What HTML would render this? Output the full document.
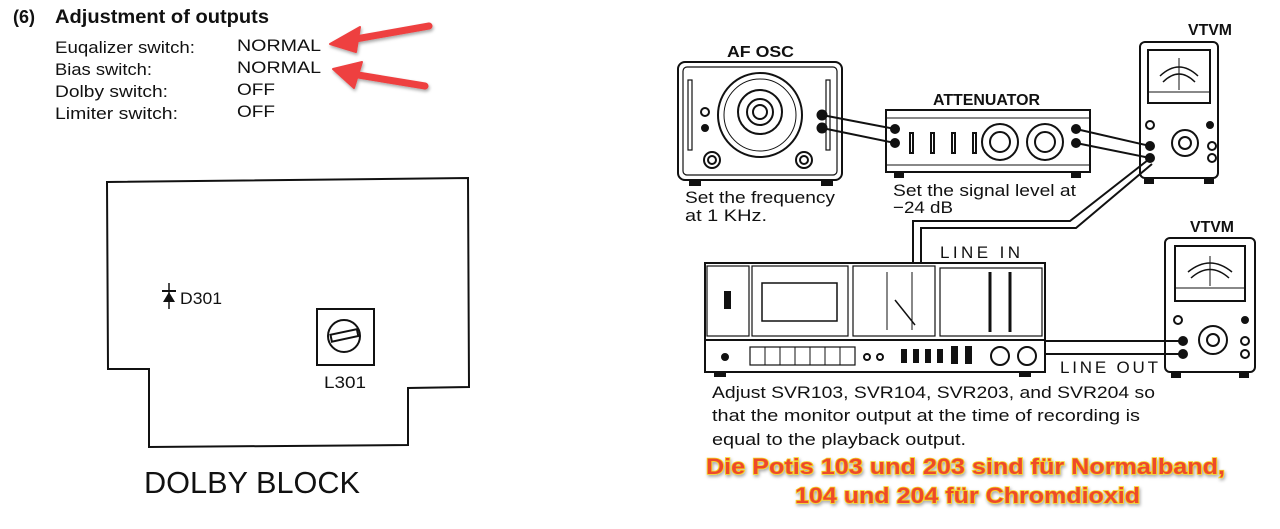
<!DOCTYPE html>
<html><head><meta charset="utf-8">
<style>
html,body{margin:0;padding:0;background:#fff;}
svg{display:block;font-family:"Liberation Sans",sans-serif;}
</style></head>
<body>
<svg width="1280" height="529" viewBox="0 0 1280 529" xmlns="http://www.w3.org/2000/svg">
<defs>
<filter id="sh" x="-10%" y="-30%" width="120%" height="160%">
<feDropShadow dx="1" dy="2" stdDeviation="1.5" flood-color="#000" flood-opacity="0.35"/>
</filter>
</defs>
<!-- LEFT: header -->
<text x="13" y="23" font-size="18" font-weight="bold" fill="#111" textLength="22" lengthAdjust="spacingAndGlyphs">(6)</text>
<text x="55" y="23" font-size="19" font-weight="bold" fill="#111" textLength="214" lengthAdjust="spacingAndGlyphs">Adjustment of outputs</text>
<g font-size="17" fill="#111">
<text x="55" y="53" textLength="140" lengthAdjust="spacingAndGlyphs">Euqalizer switch:</text>
<text x="55" y="75" textLength="97" lengthAdjust="spacingAndGlyphs">Bias switch:</text>
<text x="55" y="97" textLength="113" lengthAdjust="spacingAndGlyphs">Dolby switch:</text>
<text x="55" y="119" textLength="123" lengthAdjust="spacingAndGlyphs">Limiter switch:</text>
<text x="237" y="51" textLength="84" lengthAdjust="spacingAndGlyphs">NORMAL</text>
<text x="237" y="73" textLength="84" lengthAdjust="spacingAndGlyphs">NORMAL</text>
<text x="237" y="95" textLength="38" lengthAdjust="spacingAndGlyphs">OFF</text>
<text x="237" y="117" textLength="38" lengthAdjust="spacingAndGlyphs">OFF</text>
</g>
<!-- red arrows -->
<g fill="#ee4040" stroke="#ee4040" filter="url(#sh)">
<line x1="429" y1="26" x2="350" y2="40" stroke-width="7" stroke-linecap="round"/>
<polygon points="330,44 360,27 356,52" stroke-width="2" stroke-linejoin="round"/>
<line x1="425" y1="86" x2="352" y2="74" stroke-width="7" stroke-linecap="round"/>
<polygon points="333,69 362,62 354,88" stroke-width="2" stroke-linejoin="round"/>
</g>
<!-- board -->
<polygon points="107,182 468,178 469,387 408,388 408,445 149,447 149,369 108,369" fill="none" stroke="#111" stroke-width="2"/>
<!-- diode -->
<line x1="169" y1="283" x2="169" y2="309" stroke="#111" stroke-width="1.5"/>
<polygon points="163,302 175,302 169,292" fill="#111"/>
<line x1="162" y1="291" x2="176" y2="291" stroke="#111" stroke-width="2"/>
<text x="180" y="304" font-size="17" fill="#111" textLength="42" lengthAdjust="spacingAndGlyphs">D301</text>
<!-- L301 -->
<rect x="317" y="309" width="57" height="56" fill="none" stroke="#111" stroke-width="2"/>
<circle cx="344" cy="336" r="16" fill="none" stroke="#111" stroke-width="2"/>
<rect x="331" y="332" width="27" height="7" fill="none" stroke="#111" stroke-width="2" transform="rotate(-12 344 336)"/>
<text x="324" y="388" font-size="17" fill="#111" textLength="42" lengthAdjust="spacingAndGlyphs">L301</text>
<text x="144" y="493" font-size="31" fill="#111" textLength="216" lengthAdjust="spacingAndGlyphs">DOLBY  BLOCK</text>

<!-- RIGHT: labels -->
<g fill="#111" font-size="16" font-weight="bold">
<text x="727" y="57" textLength="67" lengthAdjust="spacingAndGlyphs">AF OSC</text>
<text x="933" y="105" textLength="107" lengthAdjust="spacingAndGlyphs">ATTENUATOR</text>
<text x="1188" y="35" textLength="44" lengthAdjust="spacingAndGlyphs">VTVM</text>
<text x="1190" y="232" textLength="44" lengthAdjust="spacingAndGlyphs">VTVM</text>
</g>
<!-- AF OSC -->
<g stroke="#111" fill="none" stroke-width="2">
<rect x="678" y="62" width="164" height="118" rx="7"/>
<rect x="683" y="67" width="154" height="108" rx="4" stroke-width="1.2"/>
<rect x="690" y="180" width="10" height="5" fill="#111"/>
<rect x="822" y="180" width="10" height="5" fill="#111"/>
<rect x="688" y="80" width="4" height="70" stroke-width="1.2"/>
<rect x="826" y="80" width="4" height="70" stroke-width="1.2"/>
<circle cx="760" cy="115" r="42"/>
<circle cx="760" cy="115" r="36" stroke-width="1"/>
<circle cx="760" cy="112" r="22"/>
<circle cx="760" cy="112" r="13"/>
<circle cx="760" cy="112" r="7"/>
<circle cx="705" cy="112" r="4"/>
<circle cx="705" cy="128" r="3" fill="#111"/>
<circle cx="712" cy="160" r="8"/><circle cx="712" cy="160" r="4"/>
<circle cx="804" cy="160" r="8"/><circle cx="804" cy="160" r="4"/>
<circle cx="822" cy="115" r="4.5" fill="#111"/>
<circle cx="822" cy="128" r="4.5" fill="#111"/>
</g>
<!-- Attenuator -->
<g stroke="#111" fill="none" stroke-width="2">
<rect x="886" y="110" width="204" height="62"/>
<line x1="886" y1="118" x2="1090" y2="118" stroke-width="1"/>
<line x1="886" y1="165" x2="1090" y2="165" stroke-width="1"/>
<rect x="895" y="172" width="8" height="5" fill="#111"/>
<rect x="1072" y="172" width="8" height="5" fill="#111"/>
<circle cx="895" cy="129" r="4" fill="#111"/>
<circle cx="895" cy="143" r="4" fill="#111"/>
<rect x="910" y="133" width="3" height="20"/>
<rect x="931" y="133" width="3" height="20"/>
<rect x="952" y="133" width="3" height="20"/>
<rect x="973" y="133" width="3" height="20"/>
<circle cx="1000" cy="142" r="18"/><circle cx="1000" cy="142" r="10"/>
<circle cx="1045" cy="142" r="18"/><circle cx="1045" cy="142" r="10"/>
<circle cx="1076" cy="129" r="4" fill="#111"/>
<circle cx="1076" cy="143" r="4" fill="#111"/>
</g>
<!-- VTVM 1 -->
<g stroke="#111" fill="none" stroke-width="2">
<rect x="1140" y="42" width="78" height="136" rx="5"/>
<rect x="1148" y="50" width="62" height="53"/>
<line x1="1148" y1="92" x2="1210" y2="92" stroke-width="1"/>
<path d="M1160 76 Q1179 58 1198 76" stroke-width="1.5"/>
<path d="M1163 82 Q1179 66 1195 82" stroke-width="1.5"/>
<line x1="1179" y1="58" x2="1179" y2="90" stroke-width="1"/>
<circle cx="1150" cy="125" r="4"/>
<circle cx="1210" cy="125" r="3" fill="#111"/>
<circle cx="1185" cy="143" r="13"/><circle cx="1185" cy="143" r="6"/>
<circle cx="1150" cy="146" r="4" fill="#111"/>
<circle cx="1150" cy="158" r="4" fill="#111"/>
<circle cx="1212" cy="146" r="4"/><circle cx="1212" cy="158" r="4"/>
<rect x="1145" y="178" width="8" height="5" fill="#111"/>
<rect x="1205" y="178" width="8" height="5" fill="#111"/>
</g>
<!-- cables -->
<g stroke="#111" stroke-width="2" fill="none">
<line x1="822" y1="115" x2="895" y2="129"/>
<line x1="822" y1="128" x2="895" y2="143"/>
<line x1="1076" y1="129" x2="1150" y2="146"/>
<line x1="1076" y1="143" x2="1150" y2="158"/>
<polyline points="1148,160 1070,221 913,221 913,263"/>
<polyline points="1152,164 1076,228 921,228 921,263"/>
<line x1="1045" y1="341" x2="1183" y2="341"/>
<line x1="1045" y1="354" x2="1183" y2="354"/>
</g>
<!-- deck -->
<g stroke="#111" fill="none" stroke-width="2">
<rect x="705" y="263" width="340" height="109"/>
<line x1="705" y1="340" x2="1045" y2="340"/>
<rect x="707" y="266" width="42" height="70" stroke-width="1.2"/>
<rect x="752" y="266" width="96" height="70" stroke-width="1.2"/>
<rect x="762" y="283" width="75" height="38" stroke-width="1.5"/>
<rect x="853" y="266" width="82" height="70" stroke-width="1.2"/>
<line x1="887" y1="272" x2="887" y2="330" stroke-width="1"/>
<line x1="912" y1="272" x2="912" y2="330" stroke-width="1"/>
<line x1="895" y1="300" x2="915" y2="325" stroke-width="1.5"/>
<rect x="940" y="268" width="102" height="68" stroke-width="1.2"/>
<line x1="990" y1="272" x2="990" y2="332" stroke-width="3"/>
<line x1="1010" y1="272" x2="1010" y2="332" stroke-width="3"/>
<rect x="725" y="292" width="5" height="16" fill="#111"/>
<rect x="750" y="347" width="105" height="18" stroke-width="1.2"/>
<line x1="765" y1="347" x2="765" y2="365" stroke-width="1"/>
<line x1="780" y1="347" x2="780" y2="365" stroke-width="1"/>
<line x1="795" y1="347" x2="795" y2="365" stroke-width="1"/>
<line x1="810" y1="347" x2="810" y2="365" stroke-width="1"/>
<line x1="825" y1="347" x2="825" y2="365" stroke-width="1"/>
<line x1="840" y1="347" x2="840" y2="365" stroke-width="1"/>
<circle cx="725" cy="357" r="3" fill="#111"/>
<circle cx="867" cy="357" r="3"/><circle cx="880" cy="357" r="3"/>
<rect x="902" y="350" width="4" height="12" fill="#111"/>
<rect x="914" y="350" width="4" height="12" fill="#111"/>
<rect x="926" y="350" width="4" height="12" fill="#111"/>
<rect x="938" y="350" width="4" height="12" fill="#111"/>
<rect x="952" y="347" width="5" height="16" fill="#111"/>
<rect x="966" y="347" width="5" height="16" fill="#111"/>
<circle cx="1000" cy="356" r="9"/>
<circle cx="1027" cy="356" r="9"/>
<rect x="715" y="372" width="10" height="4" fill="#111"/>
<rect x="1020" y="372" width="10" height="4" fill="#111"/>
</g>
<!-- VTVM 2 -->
<g stroke="#111" fill="none" stroke-width="2">
<rect x="1165" y="238" width="90" height="134" rx="5"/>
<rect x="1175" y="246" width="70" height="55"/>
<line x1="1175" y1="288" x2="1245" y2="288" stroke-width="1"/>
<path d="M1188 272 Q1210 254 1232 272" stroke-width="1.5"/>
<path d="M1191 278 Q1210 261 1229 278" stroke-width="1.5"/>
<line x1="1210" y1="256" x2="1210" y2="286" stroke-width="1"/>
<circle cx="1178" cy="320" r="4"/>
<circle cx="1245" cy="320" r="3" fill="#111"/>
<circle cx="1213" cy="340" r="14"/><circle cx="1213" cy="340" r="6"/>
<circle cx="1183" cy="341" r="4" fill="#111"/>
<circle cx="1183" cy="354" r="4" fill="#111"/>
<circle cx="1245" cy="341" r="4"/><circle cx="1245" cy="354" r="4"/>
<rect x="1172" y="372" width="8" height="5" fill="#111"/>
<rect x="1240" y="372" width="8" height="5" fill="#111"/>
</g>
<g fill="#111" font-size="17">
<text x="940" y="258" textLength="82" lengthAdjust="spacing" letter-spacing="2">LINE  IN</text>
<text x="1060" y="373" textLength="100" lengthAdjust="spacing" letter-spacing="2">LINE  OUT</text>
<text x="685" y="203" textLength="150" lengthAdjust="spacingAndGlyphs">Set the frequency</text>
<text x="685" y="221" textLength="82" lengthAdjust="spacingAndGlyphs">at 1 KHz.</text>
<text x="893" y="196" textLength="183" lengthAdjust="spacingAndGlyphs">Set the signal level at</text>
<text x="893" y="213" textLength="60" lengthAdjust="spacingAndGlyphs">−24 dB</text>
<text x="712" y="398" textLength="443" lengthAdjust="spacingAndGlyphs">Adjust SVR103, SVR104, SVR203, and SVR204 so</text>
<text x="712" y="421" textLength="428" lengthAdjust="spacingAndGlyphs">that the monitor output at the time of recording is</text>
<text x="712" y="445" textLength="254" lengthAdjust="spacingAndGlyphs">equal to the playback output.</text>
</g>
<g font-size="22" font-weight="bold" fill="#ee4a2c" stroke="#f6d21e" stroke-width="1.6" paint-order="stroke" filter="url(#sh)">
<text x="706" y="474" textLength="519" lengthAdjust="spacingAndGlyphs">Die Potis 103 und 203 sind für Normalband,</text>
<text x="795" y="503" textLength="345" lengthAdjust="spacingAndGlyphs">104 und 204 für Chromdioxid</text>
</g>
</svg>
</body></html>
